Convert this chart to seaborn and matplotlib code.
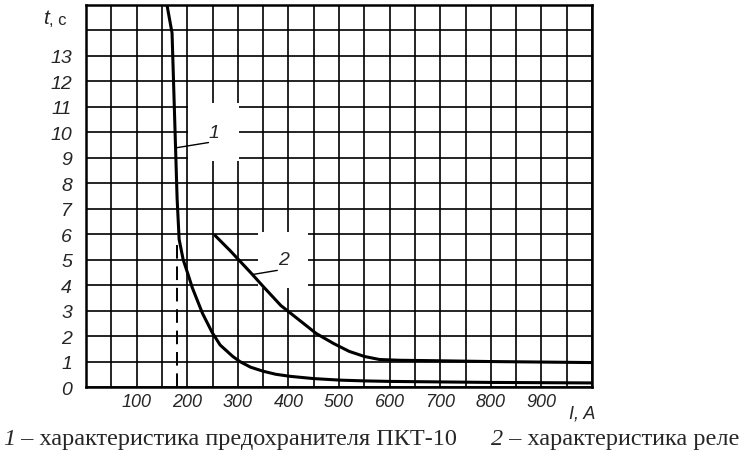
import matplotlib
matplotlib.use("Agg")
import matplotlib.pyplot as plt
import seaborn as sns
import numpy as np

# --- данные ---
# кривая 1: характеристика предохранителя ПКТ-10
fuse_current = [160, 170, 176, 180, 184, 188, 192, 202, 210, 219, 230, 249, 265, 290, 304,
                325, 350, 375, 403, 450, 502, 550, 601, 700, 800, 900, 1000]
fuse_time = [15, 13.9, 10, 7.4, 5.8, 5.4, 5.0, 4.4, 3.9, 3.45, 2.9, 2.15, 1.65, 1.2, 1.0,
             0.78, 0.62, 0.5, 0.42, 0.33, 0.27, 0.24, 0.22, 0.2, 0.18, 0.17, 0.16]

# кривая 2: характеристика реле
relay_current = [255, 285, 325, 350, 385, 420, 455, 490, 520, 550, 580, 620, 700, 800, 900, 1000]
relay_time = [5.95, 5.35, 4.5, 3.95, 3.2, 2.65, 2.1, 1.7, 1.4, 1.2, 1.08, 1.05, 1.03, 1.0, 0.98, 0.96]

# пунктирная линия (ток отсечки предохранителя)
cutoff_current = [180, 180]
cutoff_time = [0, 5.6]

x_labels = ["100", "200", "300", "400", "500", "600", "700", "800", "900"]
y_labels = [str(v) for v in range(0, 14)]

caption_1 = "– характеристика предохранителя ПКТ-10"
caption_2 = "– характеристика реле"

# --- оформление ---
sns.set_theme(style="white")
plt.rcParams["font.family"] = ["Liberation Sans", "DejaVu Sans"]

fig = plt.figure(figsize=(7.5, 4.6), dpi=100)
ax = fig.add_axes([0.1147, 0.1565, 0.6747, 0.8304])
ax.set_axisbelow(True)

sns.lineplot(x=fuse_current, y=fuse_time, ax=ax, color="black", lw=2.2, estimator=None, zorder=5)
sns.lineplot(x=relay_current, y=relay_time, ax=ax, color="black", lw=2.2, estimator=None, zorder=5)
ax.plot(cutoff_current, cutoff_time, color="black", lw=1.4, ls=(0, (7, 4)), zorder=4)

ax.set_xlim(0, 1000)
ax.set_ylim(0, 15)

# сетка: 50 А по горизонтали, 1 с по вертикали
ax.set_xticks(np.arange(0, 1001, 50))
ax.set_xticklabels(["" if v % 100 or v in (0, 1000) else x_labels[v // 100 - 1]
                    for v in range(0, 1001, 50)])
ax.set_yticks(np.arange(0, 15, 1))
ax.set_yticklabels(y_labels + [""])
ax.grid(True, color="black", lw=1.2)
ax.tick_params(axis="both", length=0)
ax.tick_params(axis="x", pad=4, labelsize=13)
ax.tick_params(axis="y", pad=10, labelsize=14)
for lab in ax.get_xticklabels() + ax.get_yticklabels():
    lab.set_fontstyle("italic")
for s in ax.spines.values():
    s.set_color("black")
    s.set_linewidth(1.8)
    s.set_zorder(6)
ax.set_xlabel("")
ax.set_ylabel("")

# подписи осей
t_lab = ax.text(-0.085, 14.5, "t", transform=ax.get_yaxis_transform(), ha="left", va="center",
                fontsize=15, fontstyle="italic")
ax.annotate(", c", xy=(1, 0.4), xycoords=t_lab, ha="left", va="center", fontsize=12,
            annotation_clip=False)
ax.text(980, -0.045, "I, A", transform=ax.get_xaxis_transform(), ha="center", va="top",
        fontsize=13, fontstyle="italic")

# номера кривых: белая плашка над сеткой, выноска поверх плашки
ax.text(252, 10.0, "1", fontsize=14, fontstyle="italic", ha="center", va="center", zorder=3,
        bbox=dict(boxstyle="square,pad=1.05", fc="white", ec="none"))
ax.annotate("", xy=(180, 9.4), xytext=(242, 9.6), zorder=4,
            arrowprops=dict(arrowstyle="-", color="black", lw=1.0, shrinkA=0, shrinkB=0))
ax.text(390, 5.0, "2", fontsize=14, fontstyle="italic", ha="center", va="center", zorder=3,
        bbox=dict(boxstyle="square,pad=1.0", fc="white", ec="none"))
ax.annotate("", xy=(330, 4.42), xytext=(378, 4.58), zorder=4,
            arrowprops=dict(arrowstyle="-", color="black", lw=1.0, shrinkA=0, shrinkB=0))

# подпись под графиком
serif = ["Liberation Serif", "DejaVu Serif"]
n1 = fig.text(0.004, 0.045, "1", fontsize=17.5, fontstyle="italic", family=serif, va="center")
ax.annotate(" " + caption_1, xy=(1, 0.5), xycoords=n1, va="center", ha="left",
            fontsize=17.5, family=serif, annotation_clip=False)
n2 = fig.text(0.655, 0.045, "2", fontsize=17.5, fontstyle="italic", family=serif, va="center")
ax.annotate(" " + caption_2, xy=(1, 0.5), xycoords=n2, va="center", ha="left",
            fontsize=17.5, family=serif, annotation_clip=False)

fig.savefig("out.png", dpi=100)
